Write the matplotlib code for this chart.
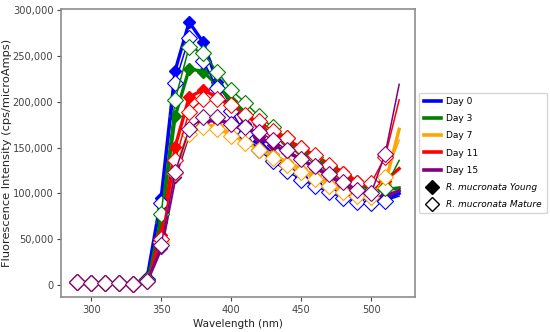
import numpy as np
import matplotlib.pyplot as plt
from matplotlib.lines import Line2D
from matplotlib.ticker import FuncFormatter

# ============================================================
# DATA (thousands of cps/microAmps)
# ============================================================
wavelength = [290, 300, 310, 320, 330, 340, 350, 360, 370, 380, 390, 400,
              410, 420, 430, 440, 450, 460, 470, 480, 490, 500, 510, 520]

low = [3, 2, 2, 2, 1]

day0_young = low + [8, 95, 234, 287, 265, 222, 198, 176, 157, 142, 130, 118, 111, 104, 99, 95, 94, 93, 100]
day0_mature = low + [7, 89, 221, 270, 245, 215, 190, 165, 147, 135, 124, 115, 108, 101, 95, 91, 89, 92, 97]

day3_young = low + [5, 69, 184, 236, 233, 218, 201, 188, 177, 166, 156, 146, 137, 128, 120, 110, 105, 104, 106]
day3_mature = low + [5, 78, 202, 260, 253, 233, 213, 199, 184, 172, 160, 150, 140, 130, 120, 110, 103, 106, 136]

day7_young = low + [4, 50, 125, 168, 175, 173, 165, 158, 150, 142, 134, 127, 119, 111, 104, 98, 97, 110, 170]
day7_mature = low + [4, 47, 122, 165, 172, 170, 163, 155, 147, 139, 131, 123, 116, 108, 101, 97, 96, 118, 158]

day11_young = low + [4, 55, 151, 205, 213, 205, 195, 185, 176, 167, 158, 150, 141, 132, 123, 113, 108, 114, 127]
day11_mature = low + [4, 50, 136, 189, 203, 203, 196, 185, 179, 168, 160, 150, 142, 131, 121, 111, 111, 140, 202]

day15_young = low + [4, 40, 118, 166, 178, 180, 176, 168, 161, 153, 145, 137, 128, 119, 110, 100, 93, 97, 103]
day15_mature = low + [4, 44, 123, 170, 183, 183, 176, 172, 167, 158, 147, 138, 130, 121, 112, 104, 100, 143, 219]

days = ["Day 0", "Day 3", "Day 7", "Day 11", "Day 15"]
day_colors = ["blue", "green", "orange", "red", "purple"]
young = [day0_young, day3_young, day7_young, day11_young, day15_young]
mature = [day0_mature, day3_mature, day7_mature, day11_mature, day15_mature]

# ============================================================
# FIGURE
# ============================================================
fig = plt.figure(figsize=(5.5, 3.32), dpi=100)
ax = fig.add_axes([0.111, 0.105, 0.644, 0.868])

x = np.array(wavelength)
marks = list(range(len(x) - 1))  # no marker on the last point

for c, y_y, y_m in zip(day_colors, young, mature):
    ax.plot(x, np.array(y_y) * 1000, color=c, lw=2.4, marker='D', ms=6.5,
            markevery=marks, mfc=c, mec=c, zorder=2)
    ax.plot(x, np.array(y_m) * 1000, color=c, lw=1.1, marker='D', ms=7.8,
            markevery=marks, mfc='white', mec=c, mew=0.8, zorder=3)

ax.set_xticks([300, 350, 400, 450, 500])
ax.set_yticks(np.arange(0, 300001, 50000))
ax.yaxis.set_major_formatter(FuncFormatter(lambda v, p: f"{int(v):,}"))

ax.tick_params(labelsize=7.1, colors='#444444', length=3, pad=2.5)
for s in ax.spines.values():
    s.set_color('#8c8c8c')
    s.set_linewidth(1.2)

ax.set_xlabel("Wavelength (nm)", fontsize=7.5, color='#222222', labelpad=3)
ax.set_ylabel("Fluorescence Intensity (cps/microAmps)", fontsize=8.2,
              color='#222222')
ax.yaxis.set_label_coords(-0.138, 0.5)

handles = [Line2D([0], [0], color=c, lw=2.6) for c in day_colors]
handles.append(Line2D([0], [0], ls='none', marker='D', ms=7, mfc='black', mec='black'))
handles.append(Line2D([0], [0], ls='none', marker='D', ms=7, mfc='white', mec='black', mew=1))
labels = days + ["R. mucronata Young", "R. mucronata Mature"]

leg = ax.legend(handles, labels, loc='center left', bbox_to_anchor=(1.0, 0.5),
                borderaxespad=0.45, fontsize=6.5, frameon=True,
                handlelength=1.9, handletextpad=0.6, labelspacing=0.9,
                borderpad=0.5)
for t in leg.get_texts()[5:]:
    t.set_fontstyle('italic')

plt.savefig('out.png', dpi=100)
